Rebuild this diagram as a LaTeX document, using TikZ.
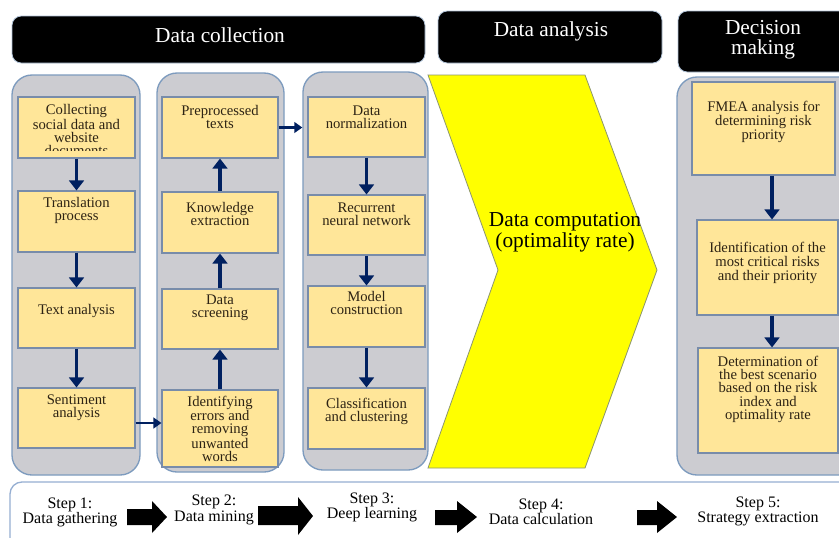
\documentclass[tikz,border=0pt]{standalone}
\usepackage{fontspec}
\setmainfont{Liberation Serif}
\usetikzlibrary{arrows.meta,calc}
\definecolor{colfill}{RGB}{204,204,209}
\definecolor{colline}{RGB}{125,155,190}
\definecolor{boxfill}{RGB}{255,230,153}
\definecolor{boxline}{RGB}{120,140,170}
\definecolor{navy}{RGB}{0,32,96}
\definecolor{txtc}{RGB}{45,35,20}
\definecolor{panelline}{RGB}{150,175,210}
\definecolor{chevline}{RGB}{140,150,110}
\definecolor{chevfill}{RGB}{255,255,0}
\begin{document}
\begin{tikzpicture}[x=0.75pt,y=-0.75pt,
  sz/.style 2 args={minimum width=#1*0.75pt, minimum height=#2*0.75pt},
  colbox/.style={draw=colline, fill=colfill, line width=1pt, rounded corners=15pt, inner sep=0pt},
  ybox/.style={draw=boxline, fill=boxfill, line width=0.8pt, inner sep=0pt},
  hdr/.style={fill=black, draw=colline!60, line width=0.6pt, rounded corners=7pt, inner sep=0pt},
  hdrtxt/.style={text=white, font=\fontsize{16}{15}\selectfont, align=center, inner sep=0pt},
  btxt/.style={text=txtc, font=\fontsize{11}{9.75}\selectfont, align=center, inner sep=0pt, anchor=north},
  rtxt/.style={text=txtc, font=\fontsize{11}{10.5}\selectfont, align=center, inner sep=0pt, anchor=north},
  arr/.style={draw=navy, line width=2.8pt, -{Triangle[width=11pt,length=7.5pt]}},
  harr/.style={draw=navy, line width=1.8pt, -{Triangle[width=8pt,length=6pt]}},
  steptxt/.style={font=\fontsize{12}{11.5}\selectfont, align=center, inner sep=0pt},
  blockarrow/.style={fill=black}
]
\clip (0,0) rectangle (839,537);
\fill[white] (0,0) rectangle (839,537);

% headers
\node[hdr, sz={413}{47}] (h1) at (218.5,39.5) {};
\node[hdrtxt] (h1t) at (220,35) {Data collection};
\node[hdr, sz={224}{52}] (h2) at (550,37) {};
\node[hdrtxt] (h2t) at (551,31) {Data analysis};
\node[hdr, sz={172}{61}] (h3) at (764,41.5) {};
\node[hdrtxt] (h3t) at (763,40) {Decision\\making};

% columns
\node[colbox, sz={128}{400}] (col1) at (76,275) {};
\node[colbox, sz={127}{399}] (col2) at (220.5,272.5) {};
\node[colbox, sz={125}{398}] (col3) at (365.5,271) {};
\node[colbox, sz={183}{398}] (col4) at (768.5,276) {};

% chevron
\draw[fill=chevfill, draw=chevline, line width=0.6pt]
  (428,75) -- (585,75) -- (657,270) -- (585,468) -- (428,468) -- (498,270) -- cycle;
\node[font=\fontsize{16}{15.75}\selectfont, align=center, inner sep=0pt] (dc) at (565,232.5)
  {Data computation\\(optimality rate)};

% column 1
\node[ybox, sz={117}{61}] (b1) at (76.5,127.5) {};
\node[ybox, sz={117}{61}] (b2) at (76.5,221.5) {};
\node[ybox, sz={117}{60}] (b3) at (76.5,318) {};
\node[ybox, sz={117}{60}] (b4) at (76.5,418) {};
\begin{scope}
  \clip (b1.north west) rectangle ([yshift=6pt]b1.south east);
  \node[btxt] (t1) at ([yshift=-6pt]b1.north) {Collecting\\social data and\\website\\documents};
\end{scope}
\node[btxt] (t2) at ([yshift=-5.25pt]b2.north) {Translation\\process};
\node[btxt] (t3) at ([yshift=-12.75pt]b3.north) {Text analysis};
\node[btxt] (t4) at ([yshift=-5.25pt]b4.north) {Sentiment\\analysis};

% column 2
\node[ybox, sz={116}{61}] (p) at (220,127.5) {};
\node[ybox, sz={116}{61}] (k) at (220,222.5) {};
\node[ybox, sz={116}{60}] (s) at (220,319) {};
\node[ybox, sz={116}{77}] (i) at (220,428.5) {};
\node[btxt] (tp) at ([yshift=-6.75pt]p.north) {Preprocessed\\texts};
\node[btxt] (tk) at ([yshift=-8.25pt]k.north) {Knowledge\\extraction};
\node[btxt] (ts) at ([yshift=-4.5pt]s.north) {Data\\screening};
\node[btxt] (ti) at ([yshift=-4.5pt]i.north) {Identifying\\errors and\\removing\\unwanted\\words};

% column 3
\node[ybox, sz={117}{60}] (n) at (366.5,127) {};
\node[ybox, sz={117}{60}] (r) at (366.5,225) {};
\node[ybox, sz={117}{61}] (m) at (366.5,316.5) {};
\node[ybox, sz={117}{61}] (c) at (366.5,418.5) {};
\node[btxt] (tn) at ([yshift=-6.75pt]n.north) {Data\\normalization};
\node[btxt] (tr) at ([yshift=-6pt]r.north) {Recurrent\\neural network};
\node[btxt] (tm) at ([yshift=-4.5pt]m.north) {Model\\construction};
\node[btxt] (tc) at ([yshift=-7.5pt]c.north) {Classification\\and clustering};

% column 4
\node[ybox, sz={143}{93}] (f) at (763.5,128.5) {};
\node[ybox, sz={141}{95}] (id) at (767.5,267.5) {};
\node[ybox, sz={140}{105}] (d) at (768,400.5) {};
\node[rtxt] (tf) at ([yshift=-14.25pt]f.north) {FMEA analysis for\\determining risk\\priority};
\node[rtxt] (tid) at ([yshift=-16.5pt]id.north) {Identification of the\\most critical risks\\and their priority};
\node[rtxt, font=\fontsize{11}{10}\selectfont] (td) at ([yshift=-6pt]d.north) {Determination of\\the best scenario\\based on the risk\\index and\\optimality rate};

% arrows
\coordinate (ax4) at (772,0);
\coordinate (ay1) at (0,423);
\draw[arr] (b1.south) -- (b2.north);
\draw[arr] (b2.south) -- (b3.north);
\draw[arr] (b3.south) -- (b4.north);
\draw[arr] (i.north) -- (s.south);
\draw[arr] (s.north) -- (k.south);
\draw[arr] (k.north) -- (p.south);
\draw[arr] (n.south) -- (r.north);
\draw[arr] (r.south) -- (m.north);
\draw[arr] (m.south) -- (c.north);
\draw[arr] (f.south -| ax4) -- (id.north -| ax4);
\draw[arr] (id.south -| ax4) -- (d.north -| ax4);
\draw[harr] (b4.east |- ay1) -- (i.west |- ay1);
\draw[harr] (p.east) -- (p.east -| col3.west);

% bottom panel
\draw[draw=panelline, line width=1pt, rounded corners=9pt, fill=white] (10,482) rectangle (870,570);
\node[steptxt] (s1) at (70,512.5) {Step 1:\\Data gathering};
\node[steptxt] (s2) at (214,510) {Step 2:\\Data mining};
\node[steptxt] (s3) at (372,507.5) {Step 3:\\Deep learning};
\node[steptxt] (s4) at (541,511.5) {Step 4:\\Data calculation};
\node[steptxt] (s5) at (758,511.5) {Step 5:\\Strategy extraction};
\fill[blockarrow] (127,509) -- (152,509) -- (152,501) -- (167,517) -- (152,533) -- (152,525) -- (127,525) -- cycle;
\fill[blockarrow] (258,506) -- (298,506) -- (298,497) -- (313,516) -- (298,535) -- (298,525) -- (258,525) -- cycle;
\fill[blockarrow] (435,510) -- (457,510) -- (457,501) -- (477,517) -- (457,533) -- (457,525) -- (435,525) -- cycle;
\fill[blockarrow] (637,510) -- (657,510) -- (657,501) -- (677,517) -- (657,533) -- (657,525) -- (637,525) -- cycle;
\end{tikzpicture}
\end{document}
